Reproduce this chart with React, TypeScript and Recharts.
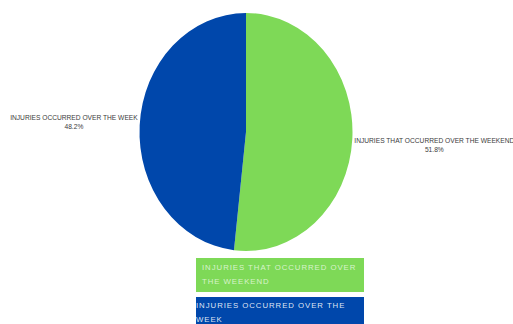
import { useLayoutEffect, useRef, useState } from "react";
import { PieChart, Pie, Cell, Legend } from "recharts";

const categories = [
  "INJURIES THAT OCCURRED OVER THE WEEKEND",
  "INJURIES OCCURRED OVER THE WEEK",
];
const shares = [51.8, 48.2];
const colors = ["#7ED957", "#0047AB"];

const data = categories.map((name, i) => ({ name, value: shares[i] }));

// the reference pie is stretched vertically
const STRETCH = 119 / 106.5;
const CX = 246;
const CY = 132;

const RAD = Math.PI / 180;
const FONT = "'Liberation Sans', Arial, sans-serif";

function SliceLabel({ ax, ay, left, upper, name, pct }: any) {
  const ref = useRef<SVGTSpanElement>(null);
  const [w, setW] = useState(name.length * 4.2);
  useLayoutEffect(() => {
    if (ref.current) setW(ref.current.getComputedTextLength());
  }, [name]);
  const mid = left ? ax - w / 2 : ax + w / 2;
  const y1 = upper ? ay - 5.5 : ay + 3.8;
  return (
    <text fontSize={6.65} fill="#3a3a3a" fontFamily={FONT}>
      <tspan ref={ref} x={ax} y={y1} textAnchor={left ? "end" : "start"}>
        {name}
      </tspan>
      <tspan x={mid} y={y1 + 9.5} textAnchor="middle">
        {pct}
      </tspan>
    </text>
  );
}

function renderLabel(props: any) {
  const { cx, cy, midAngle, outerRadius, percent, name } = props;
  const cos = Math.cos(-midAngle * RAD);
  const sin = Math.sin(-midAngle * RAD);
  return (
    <SliceLabel
      ax={cx + (outerRadius + 2) * cos}
      ay={cy + outerRadius * STRETCH * sin}
      left={cos < 0}
      upper={sin < 0}
      name={name}
      pct={`${(percent * 100).toFixed(1)}%`}
    />
  );
}

function renderLegend() {
  return (
    <div>
      {data.map((d, i) => (
        <div
          key={d.name}
          style={{
            background: colors[i],
            color: i === 0 ? "rgba(255,255,255,0.7)" : "rgba(255,255,255,0.88)",
            fontFamily: FONT,
            fontSize: 7.8,
            letterSpacing: 0.95,
            lineHeight: "14px",
            padding: i === 0 ? "3px 0px 3px 6px" : "2px 0px",
            height: 28,
            marginBottom: 5,
            boxSizing: "content-box",
          }}
        >
          {d.name}
        </div>
      ))}
    </div>
  );
}

export default function App() {
  return (
    <div style={{ position: "absolute", left: 0, top: 0 }}>
      <style>{`
        body { margin: 0; }
        .recharts-pie-sector .recharts-sector {
          transform: scaleY(${STRETCH});
          transform-origin: ${CX}px ${CY}px;
        }
      `}</style>
      <PieChart width={513} height={324} margin={{ top: 0, right: 0, bottom: 0, left: 0 }}>
        <Pie
          data={data}
          dataKey="value"
          nameKey="name"
          cx={CX}
          cy={CY}
          outerRadius={106.5}
          startAngle={90}
          endAngle={-270}
          stroke="none"
          label={renderLabel}
          labelLine={false}
          isAnimationActive={false}
        >
          {data.map((d, i) => (
            <Cell key={d.name} fill={colors[i]} />
          ))}
        </Pie>
        <Legend
          content={renderLegend}
          wrapperStyle={{ position: "absolute", left: 196, top: 258, width: 168, bottom: "auto" }}
        />
      </PieChart>
    </div>
  );
}
